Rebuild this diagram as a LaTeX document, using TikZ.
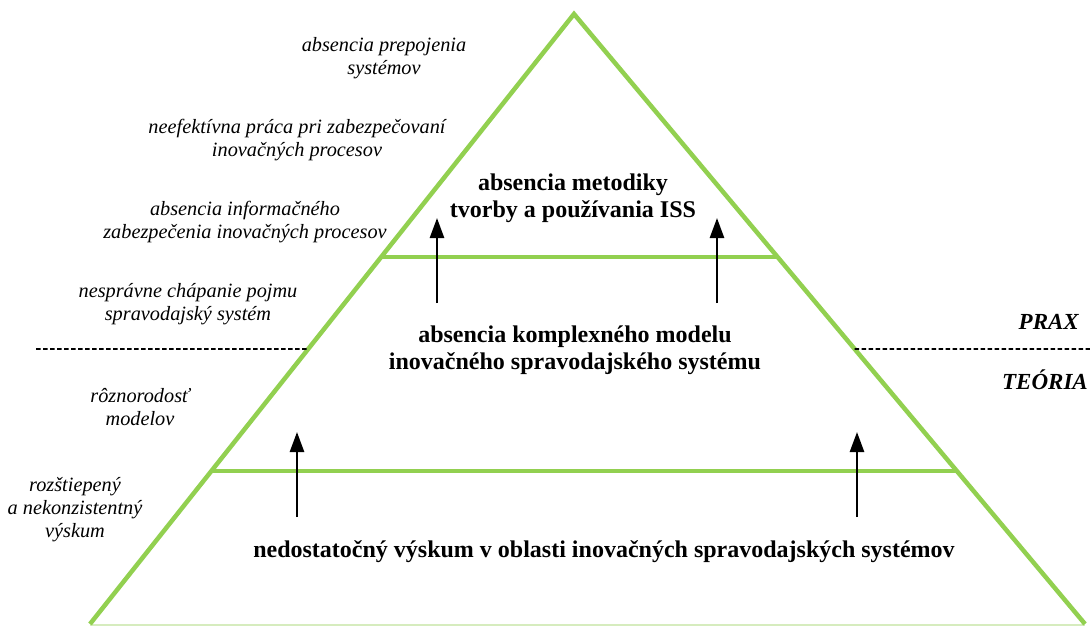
\documentclass[tikz,border=0pt]{standalone}
\usepackage{fontspec}
\setmainfont{Liberation Serif}
\usetikzlibrary{arrows.meta,calc}
\definecolor{pyrgreen}{RGB}{146,208,80}
\definecolor{pyrbase}{RGB}{214,236,190}
\begin{document}
\begin{tikzpicture}[x=1pt,y=-1pt,
  edge/.style={draw=pyrgreen,line width=4.5pt,line cap=butt,line join=miter},
  riser/.style={draw=black,line width=2.6pt,-{Triangle[width=14pt,length=20pt]}},
  sep/.style={draw=black,line width=1.8pt,dash pattern=on 4.5pt off 2.5pt},
  cause/.style={align=center,font=\itshape\fontsize{20.3}{23}\selectfont,inner sep=0pt},
  level/.style={align=center,font=\bfseries\fontsize{24}{27}\selectfont,inner sep=0pt},
  zone/.style={anchor=east,font=\bfseries\itshape\fontsize{23}{26}\selectfont,inner sep=0pt}]
\useasboundingbox (0,0) rectangle (1090,626);
% pyramid corners
\coordinate (apex) at (574,14);
\coordinate (bl) at (90,624);
\coordinate (br) at (1085,624);
% level borders on the two flanks
\coordinate (l1) at ($(apex)!0.3984!(bl)$);
\coordinate (r1) at ($(apex)!0.3984!(br)$);
\coordinate (l2) at ($(apex)!0.7492!(bl)$);
\coordinate (r2) at ($(apex)!0.7492!(br)$);
\coordinate (lm) at ($(apex)!0.5492!(bl)$);
\coordinate (rm) at ($(apex)!0.5492!(br)$);
\coordinate (dl) at (36,349);
\coordinate (dr) at (1090,349);
% faint base
\draw[draw=pyrbase,line width=2pt] (90,625) -- (1085,625);
% outline and level lines
\draw[edge] (bl) -- (apex) -- (br);
\draw[edge] (l1) -- (r1);
\draw[edge] (l2) -- (r2);
% theory / practice separator
\draw[sep] (dl) -- (lm);
\draw[sep] (rm) -- (dr);
% arrows between levels
\coordinate (a1s) at (437,303); \coordinate (a1e) at (437,218);
\coordinate (a2s) at (717,303); \coordinate (a2e) at (717,218);
\coordinate (a3s) at (297,517); \coordinate (a3e) at (297,432);
\coordinate (a4s) at (857,517); \coordinate (a4e) at (857,432);
\draw[riser] (a1s) -- (a1e);
\draw[riser] (a2s) -- (a2e);
\draw[riser] (a3s) -- (a3e);
\draw[riser] (a4s) -- (a4e);
% level titles
\node[level] (top) at (573,198) {absencia metodiky\\tvorby a používania ISS};
\node[level] (mid) at (575,350) {absencia komplexného modelu\\inovačného spravodajského systému};
\node[level] (bot) at (604,552) {nedostatočný výskum v oblasti inovačných spravodajských systémov};
% causes on the left
\node[cause] (c1) at (384,58) {absencia prepojenia\\systémov};
\node[cause] (c2) at (297,140) {neefektívna práca pri zabezpečovaní\\inovačných procesov};
\node[cause] (c3) at (245,222) {absencia informačného\\zabezpečenia inovačných procesov};
\node[cause] (c4) at (188,304) {nesprávne chápanie pojmu\\spravodajský systém};
\node[cause] (c5) at (140,407) {rôznorodosť\\modelov};
\node[cause] (c6) at (75,510) {rozštiepený\\a nekonzistentný\\výskum};
% zone labels
\node[zone] (prax) at (1079,322) {PRAX};
\node[zone] (teoria) at (1088,380) {TEÓRIA};
\end{tikzpicture}
\end{document}
